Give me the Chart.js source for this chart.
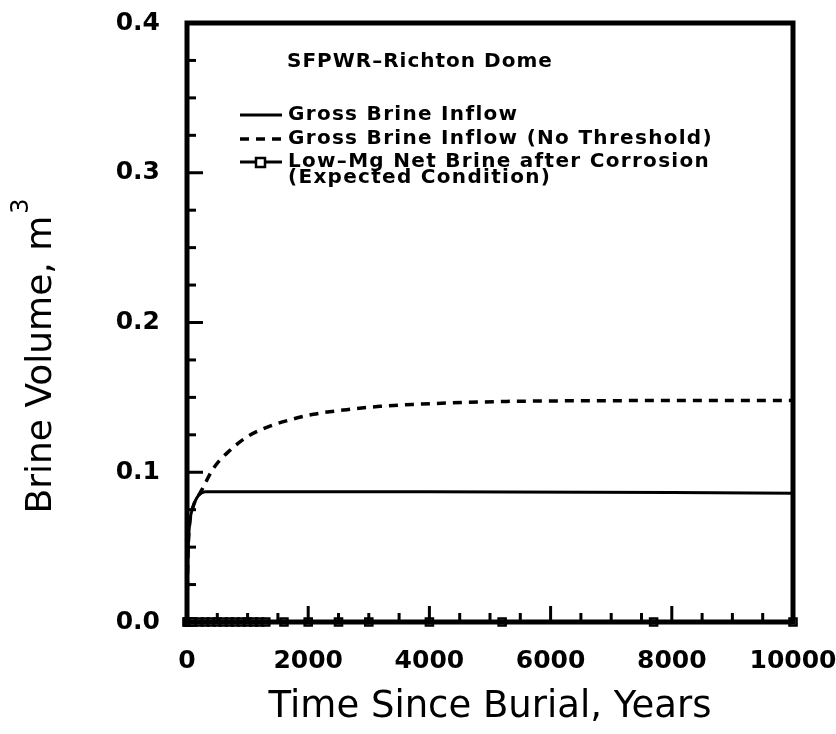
<!DOCTYPE html>
<html>
<head>
<meta charset="utf-8">
<script src="https://cdn.jsdelivr.net/npm/chart.js@4/dist/chart.umd.min.js"></script>
<style>
  body { margin: 0; background: #fff; }
  canvas { display: block; }
</style>
</head>
<body>
<canvas id="myChart" width="836" height="734"></canvas>
<script>
// values (years, m^3)
const grossYears = [0, 10, 25, 50, 100, 150, 200, 300, 1000, 4000, 10000];
const grossVolume = [0, 0.035, 0.055, 0.068, 0.077, 0.082, 0.085, 0.087, 0.087, 0.087, 0.086];

const noThreshYears = [0, 10, 25, 50, 100, 170, 242, 434, 710, 985, 1315, 1700, 2085, 2635, 3185, 3730, 4285, 5275, 7000, 10000];
const noThreshVolume = [0, 0.035, 0.055, 0.068, 0.077, 0.083, 0.088, 0.1025, 0.1147, 0.1235, 0.130, 0.135, 0.1387, 0.1418, 0.144, 0.1453, 0.1462, 0.1473, 0.1478, 0.148];

const netYears = [0, 10, 20, 50, 100, 200, 300, 400, 500, 600, 700, 800, 900, 1000, 1100, 1200, 1300, 1600, 2000, 2500, 3000, 4000, 5200, 7700, 10000];
const netVolume = netYears.map(() => 0);

const seriesLabels = [
  "Gross Brine Inflow",
  "Gross Brine Inflow (No Threshold)",
  ["Low\u2013Mg Net Brine after Corrosion", "(Expected Condition)"],
];
const legendTitle = "SFPWR\u2013Richton Dome";
const xTitle = "Time Since Burial, Years";
const yTitle = "Brine Volume, m";
const yTitleSup = "3";

function pairs(xs, ys) {
  return xs.map((x, i) => ({ x: x, y: ys[i] }));
}

// frame, inward ticks, legend and y title
const decorations = {
  id: "decorations",
  afterDraw(chart) {
    const ctx = chart.ctx;
    const a = chart.chartArea;
    const xs = chart.scales.x;
    const ys = chart.scales.y;
    ctx.save();
    ctx.strokeStyle = "#000";
    ctx.lineCap = "butt";

    // ticks pointing into the plot
    ctx.lineWidth = 3;
    xs.ticks.forEach((t) => {
      const px = xs.getPixelForValue(t.value);
      const len = t.value % 2000 === 0 ? 16 : 9;
      ctx.beginPath();
      ctx.moveTo(px, a.bottom);
      ctx.lineTo(px, a.bottom - len);
      ctx.stroke();
    });
    ys.ticks.forEach((t) => {
      const py = ys.getPixelForValue(t.value);
      const major = Math.abs(t.value * 10 - Math.round(t.value * 10)) < 1e-6;
      ctx.beginPath();
      ctx.moveTo(a.left, py);
      ctx.lineTo(a.left + (major ? 16 : 9), py);
      ctx.stroke();
    });

    // frame
    ctx.lineWidth = 5;
    ctx.strokeRect(a.left, a.top, a.right - a.left, a.bottom - a.top);

    // legend
    ctx.fillStyle = "#000";
    ctx.textBaseline = "middle";
    ctx.textAlign = "left";
    ctx.letterSpacing = "1px";
    ctx.font = "bold 20px 'DejaVu Sans'";
    ctx.fillText(legendTitle, 287, 62);
    ctx.letterSpacing = "1.3px";
    const rows = [115, 139, 162];
    chart.data.datasets.forEach((ds, i) => {
      const y = rows[i];
      ctx.lineWidth = ds.borderWidth;
      ctx.setLineDash(ds.borderDash || []);
      ctx.beginPath();
      ctx.moveTo(240, y);
      ctx.lineTo(282, y);
      ctx.stroke();
      ctx.setLineDash([]);
      if (ds.pointRadius > 0) {
        ctx.lineWidth = 2.5;
        ctx.fillStyle = "#fff";
        ctx.fillRect(256, y - 4, 9, 9);
        ctx.strokeRect(256, y - 4, 9, 9);
        ctx.fillStyle = "#000";
      }
      const lines = Array.isArray(ds.label) ? ds.label : [ds.label];
      lines.forEach((s, k) => ctx.fillText(s, 288, y + k * 16));
    });
    ctx.letterSpacing = "0px";

    // y axis title with superscript
    ctx.translate(42, 357);
    ctx.rotate(-Math.PI / 2);
    ctx.font = "36px 'DejaVu Sans'";
    const w1 = ctx.measureText(yTitle).width;
    ctx.font = "24px 'DejaVu Sans'";
    const w2 = ctx.measureText(yTitleSup).width;
    const start = -(w1 + w2) / 2;
    ctx.font = "36px 'DejaVu Sans'";
    ctx.fillText(yTitle, start, 0);
    ctx.font = "24px 'DejaVu Sans'";
    ctx.fillText(yTitleSup, start + w1 + 2, -20);
    ctx.restore();
  },
};

new Chart("myChart", {
  type: "line",
  data: {
    datasets: [
      {
        label: seriesLabels[0],
        data: pairs(grossYears, grossVolume),
        borderColor: "#000",
        borderWidth: 3,
        pointRadius: 0,
        cubicInterpolationMode: "monotone",
      },
      {
        label: seriesLabels[1],
        data: pairs(noThreshYears, noThreshVolume),
        borderColor: "#000",
        borderWidth: 3.5,
        borderDash: [9, 7],
        pointRadius: 0,
        cubicInterpolationMode: "monotone",
      },
      {
        label: seriesLabels[2],
        data: pairs(netYears, netVolume),
        borderColor: "#000",
        borderWidth: 3,
        clip: false,
        pointStyle: "rect",
        pointRadius: 5,
        pointBorderWidth: 2.5,
        pointBackgroundColor: "#fff",
        pointBorderColor: "#000",
      },
    ],
  },
  options: {
    responsive: false,
    animation: false,
    layout: { padding: { top: 23, right: 43, left: 0, bottom: 0 } },
    plugins: {
      legend: { display: false },
      tooltip: { enabled: false },
    },
    scales: {
      x: {
        type: "linear",
        min: 0,
        max: 10000,
        grid: { display: false },
        border: { display: false },
        afterFit: (s) => {
          s.height = 112;
          s.paddingLeft = 0;
          s.paddingRight = 0;
        },
        ticks: {
          stepSize: 500,
          autoSkip: false,
          maxRotation: 0,
          padding: 16,
          color: "#000",
          font: { family: "'DejaVu Sans'", size: 25, weight: "bold" },
          callback: (v) => (v % 2000 === 0 ? String(v) : ""),
        },
        title: {
          display: true,
          text: xTitle,
          color: "#000",
          font: { family: "'DejaVu Sans'", size: 37 },
          padding: { top: 2 },
        },
      },
      y: {
        min: 0,
        max: 0.4,
        grid: { display: false },
        border: { display: false },
        afterFit: (s) => {
          s.width = 187;
          s.paddingTop = 0;
          s.paddingBottom = 0;
        },
        ticks: {
          stepSize: 0.025,
          autoSkip: false,
          padding: 19,
          color: "#000",
          font: { family: "'DejaVu Sans'", size: 25, weight: "bold" },
          callback: (v) => {
            const r = Math.round(v * 10);
            return Math.abs(v * 10 - r) < 1e-6 ? (r / 10).toFixed(1) : "";
          },
        },
      },
    },
  },
  plugins: [decorations],
});
</script>
</body>
</html>
